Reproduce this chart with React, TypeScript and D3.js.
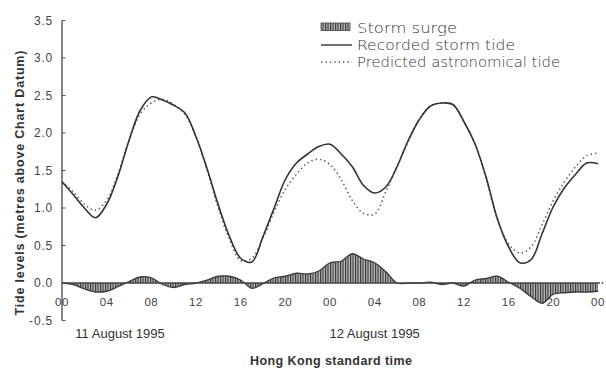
import React from "react";
import * as d3 from "d3";

const hours = d3.range(0, 49);
const recorded = [1.35, 1.18, 1.0, 0.87, 1.05, 1.42, 1.9, 2.3, 2.48, 2.44, 2.37, 2.27, 1.95, 1.52, 1.04, 0.62, 0.33, 0.28, 0.62, 1.0, 1.38, 1.6, 1.72, 1.82, 1.85, 1.72, 1.55, 1.3, 1.2, 1.28, 1.55, 1.9, 2.18, 2.36, 2.4, 2.38, 2.15, 1.85, 1.4, 0.85, 0.48, 0.27, 0.31, 0.66, 1.02, 1.27, 1.45, 1.6, 1.59];
const predicted = [1.35, 1.22, 1.05, 0.97, 1.1, 1.45, 1.9, 2.25, 2.4, 2.45, 2.38, 2.25, 1.95, 1.5, 1.0, 0.58, 0.3, 0.33, 0.6, 0.95, 1.25, 1.45, 1.6, 1.65, 1.58, 1.38, 1.1, 0.93, 0.92, 1.22, 1.55, 1.88, 2.18, 2.36, 2.4, 2.38, 2.15, 1.85, 1.38, 0.85, 0.52, 0.4, 0.48, 0.78, 1.1, 1.35, 1.55, 1.7, 1.73];
const surge = [0.0, -0.02, -0.08, -0.12, -0.11, -0.05, 0.02, 0.08, 0.07, -0.02, -0.06, -0.02, 0.0, 0.04, 0.09, 0.09, 0.04, -0.07, -0.01, 0.07, 0.09, 0.13, 0.12, 0.16, 0.27, 0.29, 0.39, 0.32, 0.27, 0.15, 0.0, 0.0, 0.0, 0.01, -0.02, 0.0, -0.04, 0.04, 0.06, 0.09, 0.01, -0.07, -0.18, -0.27, -0.15, -0.13, -0.12, -0.12, -0.11];

const yTicks = [-0.5, 0, 0.5, 1, 1.5, 2, 2.5, 3, 3.5];
const xTickHours = [0, 4, 8, 12, 16, 20, 24, 28, 32, 36, 40, 44, 48];
const xTickLabels = ["00", "04", "08", "12", "16", "20", "00", "04", "08", "12", "16", "20", "00"];
const dateLabels = ["11  August 1995", "12  August 1995"];
const dateHours = [5.2, 28.0];
const legendLabels = ["Storm  surge", "Recorded  storm  tide", "Predicted  astronomical  tide"];

export default function App() {
  const x = d3.scaleLinear().domain([0, 48]).range([62, 598]);
  const y = d3.scaleLinear().domain([-0.5, 3.5]).range([320.5, 20.5]);

  const line = (vals: number[]) =>
    d3
      .line<number>()
      .x((_, i) => x(hours[i]))
      .y((v) => y(v))
      .curve(d3.curveCatmullRom.alpha(0.5))(vals) || "";

  const area =
    d3
      .area<number>()
      .x((_, i) => x(hours[i]))
      .y0(y(0))
      .y1((v) => y(v))
      .curve(d3.curveCatmullRom.alpha(0.5))(surge) || "";
  const surgeLine = line(surge);

  const axisX = x(0);
  const ink = "#333";

  return (
    <svg
      width={606}
      height={371}
      style={{ position: "absolute", left: 0, top: 0, background: "#fff" }}
      fontFamily="'Liberation Sans', Arial, sans-serif"
    >
      <defs>
        <pattern id="hatch" width={2.5} height={4} patternUnits="userSpaceOnUse">
          <rect width={2.5} height={4} fill="#b8b8b8" />
          <rect x={0} width={1.1} height={4} fill="#333" />
        </pattern>
      </defs>

      {/* surge */}
      <path d={area} fill="url(#hatch)" stroke="none" />
      <path d={surgeLine} fill="none" stroke="#3a3a3a" strokeWidth={1.3} />

      {/* zero baseline */}
      <line x1={axisX} x2={600} y1={y(0)} y2={y(0)} stroke="#444" strokeWidth={1.6} />
      <circle cx={602.5} cy={y(0)} r={0.9} fill="#555" />

      {/* y axis */}
      <line x1={axisX} x2={axisX} y1={y(3.5)} y2={y(-0.5)} stroke="#444" strokeWidth={1.3} />
      {yTicks.map((t) => (
        <g key={t}>
          <line x1={axisX} x2={axisX + 3.5} y1={y(t)} y2={y(t)} stroke="#555" strokeWidth={1} />
          <text
            x={53}
            y={y(t)}
            dy="0.36em"
            textAnchor="end"
            fontSize={12}
            letterSpacing={0.8}
            fill="#444"
          >
            {t.toFixed(1)}
          </text>
        </g>
      ))}

      {/* x tick labels */}
      {xTickHours.map((h, i) => (
        <text
          key={i}
          x={x(h)}
          y={302}
          dy="0.36em"
          textAnchor="middle"
          fontSize={11.5}
          letterSpacing={0.5}
          fill="#444"
        >
          {xTickLabels[i]}
        </text>
      ))}

      {/* date labels */}
      {dateLabels.map((d, i) => (
        <text key={d} x={x(dateHours[i])} y={333} dy="0.36em" textAnchor="middle" fontSize={13} fill="#333">
          {d}
        </text>
      ))}

      {/* predicted (dotted) */}
      <path
        d={line(predicted)}
        fill="none"
        stroke="#555"
        strokeWidth={1.5}
        strokeDasharray="1.4 3"
      />
      {/* recorded (solid) */}
      <path d={line(recorded)} fill="none" stroke={ink} strokeWidth={1.6} />

      {/* axis titles */}
      <text
        transform={`translate(19,${183}) rotate(-90)`}
        textAnchor="middle"
        dy="0.36em"
        fontSize={12.5}
        fontWeight="bold"
        fill="#333"
        textLength={265}
        lengthAdjust="spacing"
      >
        Tide levels (metres above Chart Datum)
      </text>
      <text
        x={331}
        y={365}
        textAnchor="middle"
        fontSize={12.5}
        fontWeight="bold"
        fill="#333"
        textLength={162}
        lengthAdjust="spacing"
      >
        Hong Kong standard time
      </text>

      {/* legend */}
      <g fontFamily="'DejaVu Sans', sans-serif" fontSize={14} fill="#333">
        <rect x={321} y={23} width={29} height={7.5} fill="url(#hatch)" stroke="#444" strokeWidth={0.8} />
        <line x1={321} x2={352} y1={45} y2={45} stroke={ink} strokeWidth={1.4} />
        <line x1={321} x2={352} y1={62} y2={62} stroke="#555" strokeWidth={1.4} strokeDasharray="1.4 3" />
        {legendLabels.map((l, i) => (
          <text
            key={l}
            x={357}
            y={28 + i * 17}
            dy="0.36em"
            textLength={[100, 158, 203][i]}
            lengthAdjust="spacingAndGlyphs"
            fontWeight={300}
          >
            {l}
          </text>
        ))}
      </g>
    </svg>
  );
}
